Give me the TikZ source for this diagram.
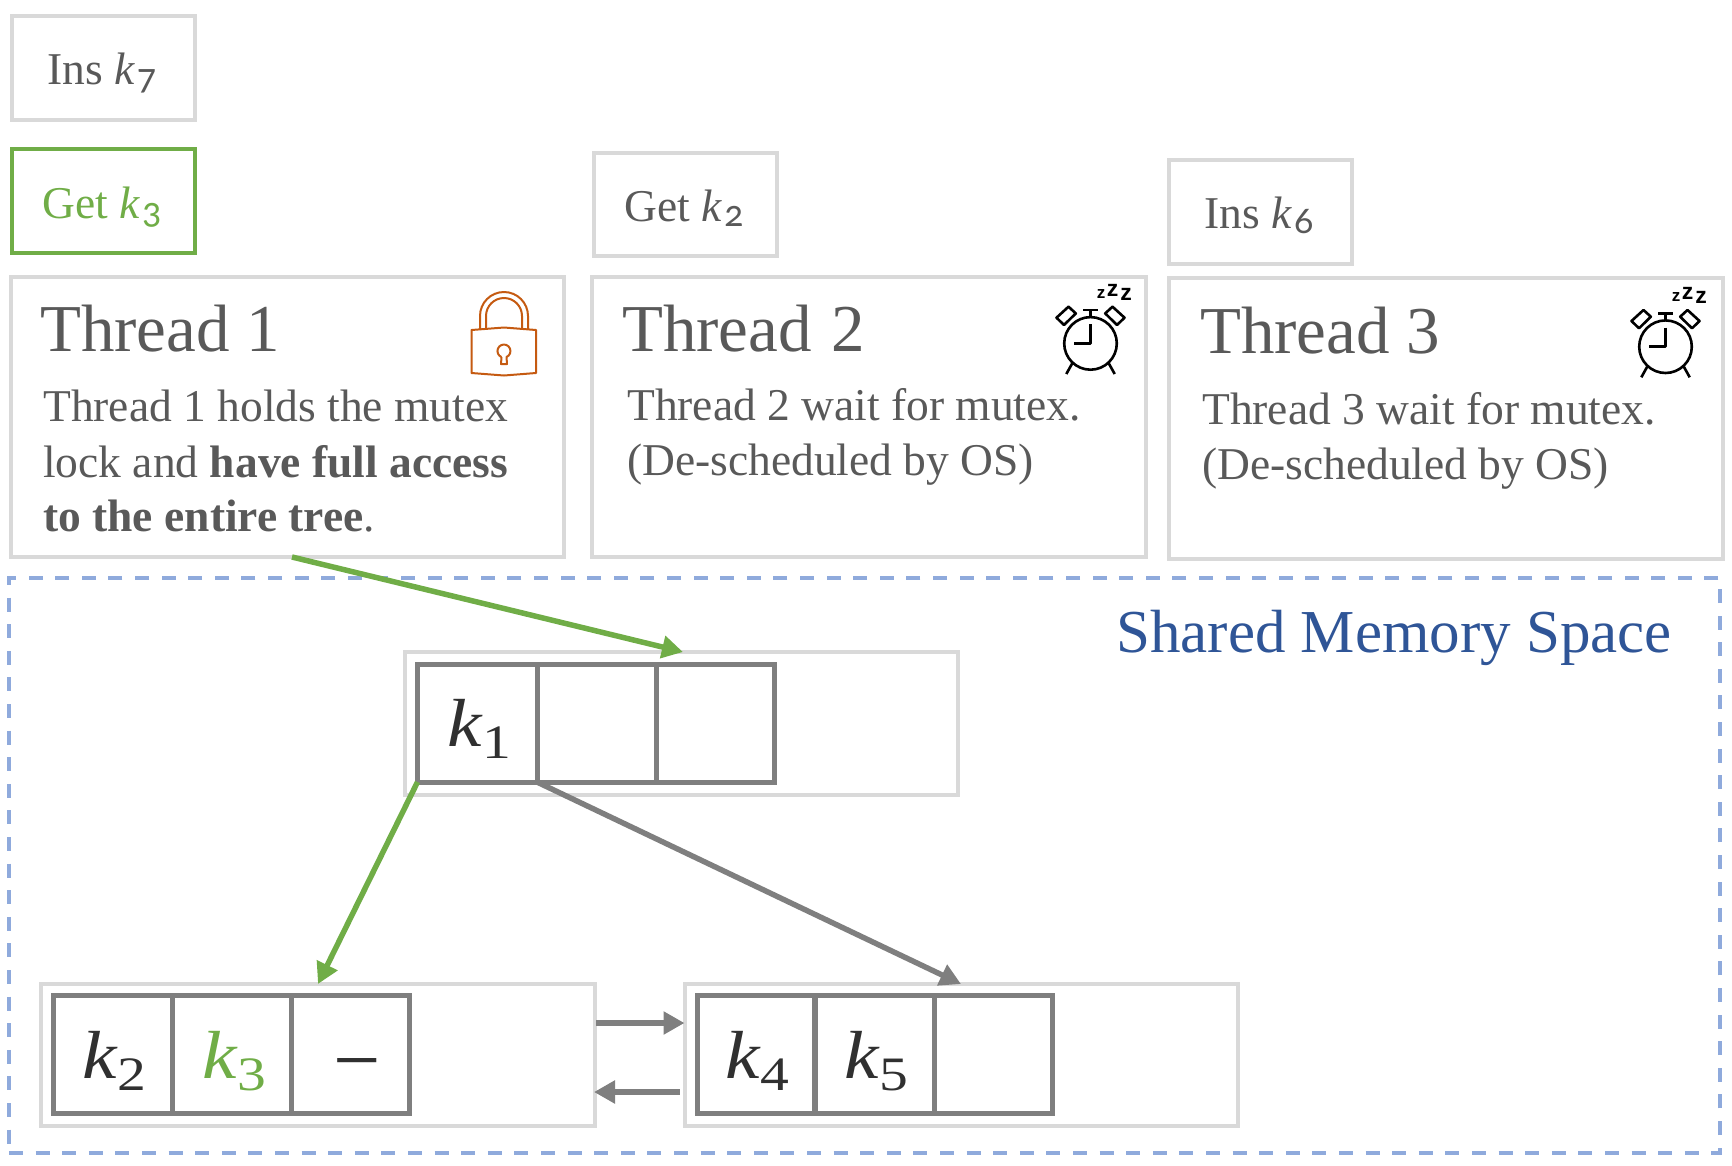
\documentclass[tikz,border=0pt]{standalone}
\usepackage{graphicx}
\usepackage{fontspec}
\setmainfont{Liberation Serif}
\newfontfamily\oldnum[Numbers=OldStyle]{Carlito}
\newfontfamily\zedfont{Liberation Sans}
\usetikzlibrary{arrows.meta}
\definecolor{boxgray}{HTML}{D9D9D9}
\definecolor{cellgray}{HTML}{7F7F7F}
\definecolor{txtgray}{HTML}{595959}
\definecolor{darkk}{HTML}{303030}
\definecolor{mygreen}{HTML}{70AD47}
\definecolor{frameblue}{HTML}{8FAADC}
\definecolor{titleblue}{HTML}{2F5597}
\definecolor{lockorange}{HTML}{C55A11}
\newcommand{\opk}[1]{\textit{k}\kern2pt\raisebox{-5pt}{\fontsize{38}{38}\selectfont\oldnum #1}}
\newcommand{\cellk}[1]{\scalebox{1.14}[1]{\textit{k}}\raisebox{-12pt}{\scalebox{1.2}[1]{\fontsize{48}{48}\selectfont #1}}}
\tikzset{
  x=1pt,y=-1pt,
  lightbox/.style={draw=boxgray,line width=4pt,inner sep=0pt,outer sep=0pt,anchor=north west},
  greenbox/.style={draw=mygreen,line width=4pt,inner sep=0pt,outer sep=0pt,anchor=north west},
  cellbox/.style={draw=cellgray,line width=5pt,inner sep=0pt,outer sep=0pt,anchor=north west,minimum height=118pt,minimum width=119pt},
  optext/.style={text=txtgray,inner sep=0pt,anchor=base west,font=\fontsize{45.5}{50}\selectfont},
  titletext/.style={text=txtgray,inner sep=0pt,anchor=base west,font=\fontsize{67}{72}\selectfont},
  bodytext/.style={text=txtgray,inner sep=0pt,anchor=base west,align=left,font=\fontsize{45.5}{55}\selectfont},
  keytext/.style={text=darkk,inner sep=0pt,anchor=base west,font=\fontsize{68}{72}\selectfont},
  greenarrow/.style={draw=mygreen,line width=5.5pt,-{Triangle[length=21pt,width=22pt]}},
  grayarrow/.style={draw=cellgray,line width=5.5pt,-{Triangle[length=21pt,width=22pt]}},
  alarm/.pic={
    \begin{scope}[line width=2.6pt,black,line join=round]
      \draw (0,0) circle (26.3);
      \draw (0,-19) -- (0,0) -- (-17,0);
      \draw (0,-26) -- (0,-33.5) (-7.5,-33.5) -- (7.5,-33.5);
      \draw (-34,-25.7) -- (-22,-36.7) -- (-14.7,-30) -- (-26.5,-18.4) -- cycle;
      \draw (34,-25.7) -- (22,-36.7) -- (14.7,-30) -- (26.5,-18.4) -- cycle;
      \draw (-18.3,20) -- (-24.2,30.6) (18.3,20) -- (24.2,30.6);
    \end{scope}
    \node[inner sep=0pt,font=\zedfont\bfseries\fontsize{17}{17}\selectfont] (-z1) at (10.5,-49.5) {z};
    \node[inner sep=0pt,font=\zedfont\bfseries\fontsize{23}{23}\selectfont] (-z2) at (22,-53) {z};
    \node[inner sep=0pt,font=\zedfont\bfseries\fontsize{23}{23}\selectfont] (-z3) at (35.5,-49) {z};
  }
}
\begin{document}
\begin{tikzpicture}
\useasboundingbox (0,0) rectangle (1732,1165);
% shared memory frame
\node[draw=frameblue,line width=3.2pt,dash pattern=on 14pt off 12.6pt,inner sep=0pt,outer sep=0pt,anchor=north west,minimum width=1711pt,minimum height=575pt] (mem) at (9,578) {};
\node[text=titleblue,inner sep=0pt,anchor=base west,font=\fontsize{61}{66}\selectfont] (memlabel) at (1116,652) {Shared Memory Space};
% operations
\node[lightbox,minimum width=183pt,minimum height=104.5pt] (opa) at (12,15.5) {};
\node[optext] (opatext) at (47,84) {Ins \opk{7}};
\node[greenbox,minimum width=183pt,minimum height=103.5pt] (opb) at (12,149) {};
\node[optext,text=mygreen] (opbtext) at (42,218) {Get \opk{3}};
\node[lightbox,minimum width=183pt,minimum height=103pt] (opc) at (594,152.5) {};
\node[optext] (opctext) at (624,221) {Get \opk{2}};
\node[lightbox,minimum width=183pt,minimum height=104pt] (opd) at (1169,159.5) {};
\node[optext] (opdtext) at (1204,228) {Ins \opk{6}};
% threads
\node[lightbox,minimum width=553pt,minimum height=280.5pt] (t1) at (10.5,276.5) {};
\node[titletext] (t1title) at (40,351) {Thread 1};
\node[bodytext] (t1line1) at (43,421.5) {Thread 1 holds the mutex};
\node[bodytext] (t1line2) at (43,477) {lock and \textbf{have full access}};
\node[bodytext] (t1line3) at (43,531) {\textbf{to the entire tree}.};
\node[lightbox,minimum width=554pt,minimum height=280.5pt] (t2) at (592,276.5) {};
\node[titletext] (t2title) at (622,351) {Thread\hspace{3pt} 2};
\node[bodytext] (t2line1) at (627,420) {Thread 2 wait for mutex.};
\node[bodytext] (t2line2) at (627,475) {(De-scheduled by OS)};
\node[lightbox,minimum width=554pt,minimum height=280.5pt] (t3) at (1169,278) {};
\node[titletext] (t3title) at (1200,353) {Thread 3};
\node[bodytext] (t3line1) at (1202,424) {Thread 3 wait for mutex.};
\node[bodytext] (t3line2) at (1202,479) {(De-scheduled by OS)};
% lock icon
\begin{scope}[draw=lockorange,line width=2pt,line join=round]
  \draw (471.5,330) -- (504,327.5) -- (536,330) -- (536,373) -- (504,375.5) -- (471.5,373) -- cycle;
  \draw (480,329) -- (480,316) arc[start angle=180,end angle=360,x radius=24,y radius=24] -- (528,329);
  \draw (486,328.5) -- (486,316) arc[start angle=180,end angle=360,x radius=18,y radius=18] -- (522,328.5);
  \draw (501.5,357) -- (501,364) -- (507,364) -- (506.5,357) arc[start angle=67,end angle=-247,radius=6.5];
\end{scope}
% alarm clocks
\pic (clocka) at (1090.5,343.4) {alarm};
\pic (clockb) at (1665.5,346.7) {alarm};
% tree: root
\node[lightbox,minimum width=553pt,minimum height=143pt] (root) at (405,652) {};
\node[cellbox,minimum width=119.5pt] (r1) at (417.5,664) {};
\node[cellbox,minimum width=119.5pt] (r2) at (537,664) {};
\node[cellbox,minimum width=118pt] (r3) at (656.5,664) {};
\node[keytext] (k1) at (447,746) {\cellk{1}};
% tree: left leaf
\node[lightbox,minimum width=554pt,minimum height=142pt] (leafl) at (41,984) {};
\node[cellbox,minimum width=119pt] (l1) at (53.5,995.5) {};
\node[cellbox,minimum width=118.5pt] (l2) at (172.5,995.5) {};
\node[cellbox,minimum width=118pt] (l3) at (291,995.5) {};
\node[keytext] (k2) at (82,1078) {\cellk{2}};
\node[keytext,text=mygreen] (k3) at (202,1078) {\cellk{3}};
\node[text=darkk,inner sep=0pt,font=\fontsize{84}{84}\selectfont] (kdash) at (357,1073) {−};
% tree: right leaf
\node[lightbox,minimum width=553pt,minimum height=142pt] (leafr) at (684.5,984) {};
\node[cellbox,minimum width=117.5pt] (m1) at (697,995.5) {};
\node[cellbox,minimum width=119.5pt] (m2) at (815,995.5) {};
\node[cellbox,minimum width=118pt] (m3) at (934.5,995.5) {};
\node[keytext] (k4) at (725,1078) {\cellk{4}};
\node[keytext] (k5) at (844,1078) {\cellk{5}};
% connectors
\draw[greenarrow] ([xshift=5pt]t1.south) -- ([xshift=1.5pt]root.north);
\draw[greenarrow] (r1.south west) -- (leafl.north);
\draw[grayarrow] (r1.south east) -- (leafr.north);
\draw[grayarrow,shorten <=1pt] ([yshift=32pt]leafl.east) -- ([yshift=32pt]leafr.west);
\draw[grayarrow,shorten <=5pt,shorten >=-1pt] ([yshift=-37pt]leafr.west) -- ([yshift=-37pt]leafl.east);
\end{tikzpicture}
\end{document}
